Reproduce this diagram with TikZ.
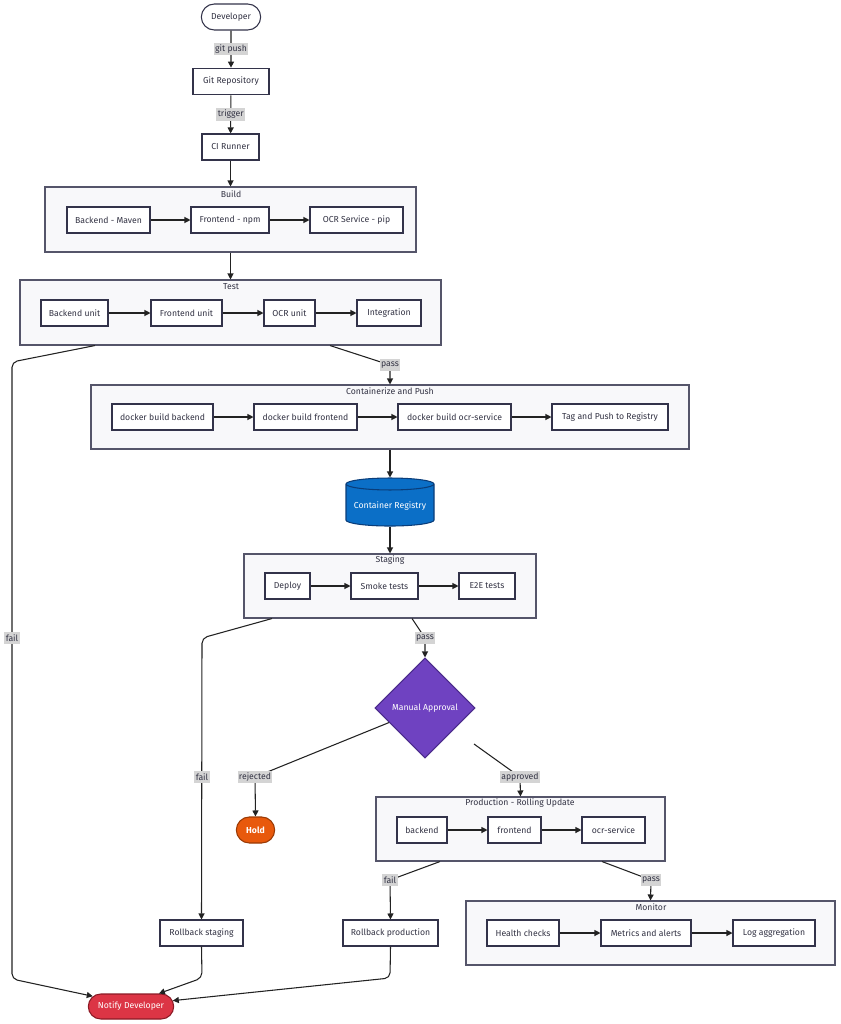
\documentclass[tikz,border=0pt]{standalone}
\usepackage{fontspec}
\setmainfont{Fira Sans}
\usetikzlibrary{arrows.meta,shapes.geometric,shapes.misc,fit}
\definecolor{nodeborder}{HTML}{33334A}
\definecolor{textc}{HTML}{333344}
\definecolor{clusterfill}{HTML}{F8F8FA}
\definecolor{clusterborder}{HTML}{55556A}
\definecolor{edgec}{HTML}{222222}
\definecolor{labelfill}{HTML}{D4D4D4}
\definecolor{regfill}{HTML}{0B6FC7}
\definecolor{regborder}{HTML}{0A3D7A}
\definecolor{apprfill}{HTML}{6F42C1}
\definecolor{apprborder}{HTML}{4A2A8A}
\definecolor{holdfill}{HTML}{E8590C}
\definecolor{holdborder}{HTML}{9A3A05}
\definecolor{notifyfill}{HTML}{DC3545}
\definecolor{notifyborder}{HTML}{8B1A25}
\tikzset{
  txt/.style={font=\fontsize{6.5}{7.5}\selectfont},
  box/.style={txt, draw=nodeborder, fill=white, line width=0.8pt, minimum height=19.5pt, inner sep=1pt, text=textc},
  term/.style={box, rounded rectangle},
  cluster/.style={draw=clusterborder, fill=clusterfill, line width=0.8pt, inner sep=0pt, sharp corners},
  ctitle/.style={txt, text=textc, inner sep=0pt},
  edge/.style={draw=edgec, line width=0.8pt, -{Triangle[length=4.5pt,width=4.5pt]}, rounded corners=4pt},
  elabel/.style={txt, fill=labelfill, sharp corners, inner xsep=1pt, inner ysep=0pt, minimum height=9.5pt, text=textc}
}
\begin{document}
\begin{tikzpicture}[x=0.75pt,y=-0.75pt]
\useasboundingbox (0,0) rectangle (841,1024);
% clusters
\node[cluster, fit={(45,187) (416,252)}] (build) {};
\node[ctitle] (buildT) at (231,194) {Build};
\node[cluster, fit={(20,280) (441,345)}] (test) {};
\node[ctitle] (testT) at (231,287) {Test};
\node[cluster, fit={(91,385) (689,449)}] (cont) {};
\node[ctitle] (contT) at (390,391) {Containerize and Push};
\node[cluster, fit={(244,554) (536,618)}] (staging) {};
\node[ctitle] (stagingT) at (390,560) {Staging};
\node[cluster, fit={(376,797) (665,861)}] (prod) {};
\node[ctitle] (prodT) at (520,803) {Production - Rolling Update};
\node[cluster, fit={(466,901) (835,965)}] (mon) {};
\node[ctitle] (monT) at (651,907) {Monitor};
% top nodes
\node[term, minimum width=46.5pt] (dev) at (231,17) {Developer};
\node[box, minimum width=57pt, minimum height=20pt] (git) at (231,81.5) {Git Repository};
\node[box, minimum width=42.75pt] (ci) at (230.5,147) {CI Runner};
% build
\node[box, minimum width=62.25pt] (bm) at (108.5,220) {Backend - Maven};
\node[box, minimum width=58.5pt] (fn) at (230,220) {Frontend - npm};
\node[box, minimum width=69.75pt] (op) at (356.5,220) {OCR Service - pip};
% test
\node[box, minimum width=50.25pt] (bu) at (74.5,313) {Backend unit};
\node[box, minimum width=53.25pt] (fu) at (186.5,313) {Frontend unit};
\node[box, minimum width=38.25pt] (ou) at (289.5,313) {OCR unit};
\node[box, minimum width=48pt] (iu) at (389,313) {Integration};
% containerize
\node[box, minimum width=75.75pt] (db1) at (162.5,417) {docker build backend};
\node[box, minimum width=77.25pt] (db2) at (305.5,417) {docker build frontend};
\node[box, minimum width=84.75pt] (db3) at (454.5,417) {docker build ocr-service};
\node[box, minimum width=87pt] (tp) at (610,417) {Tag and Push to Registry};
% registry
\node[cylinder, shape border rotate=90, aspect=0.16, draw=regborder, fill=regfill, line width=0.8pt, minimum width=66pt, minimum height=36pt, txt, text=white, inner sep=1pt] (reg) at (390,506) {Container Registry};
% staging
\node[box, minimum width=33.75pt] (dep) at (287.5,586) {Deploy};
\node[box, minimum width=50.25pt] (smk) at (384.5,586) {Smoke tests};
\node[box, minimum width=42pt] (e2e) at (487,586) {E2E tests};
% approval
\node[diamond, draw=apprborder, fill=apprfill, line width=0.8pt, minimum width=75pt, minimum height=75pt, inner sep=0pt, txt, text=white] (appr) at (425,708) {Manual Approval};
\coordinate (approut) at (474,744);
\node[term, draw=holdborder, fill=holdfill, text=white, minimum width=30.75pt] (hold) at (255.5,830) {\textbf{Hold}};
% production
\node[box, minimum width=37.5pt] (pb) at (422,830) {backend};
\node[box, minimum width=39.75pt] (pf) at (514.5,830) {frontend};
\node[box, minimum width=47.25pt] (po) at (613.5,830) {ocr-service};
% monitor
\node[box, minimum width=54pt] (hc) at (523,933) {Health checks};
\node[box, minimum width=67.5pt] (ma) at (646,933) {Metrics and alerts};
\node[box, minimum width=61.5pt] (la) at (774,933) {Log aggregation};
% rollbacks
\node[box, minimum width=62.25pt] (rbs) at (201.5,933) {Rollback staging};
\node[box, minimum width=71.25pt] (rbp) at (390.5,933) {Rollback production};
\node[term, draw=notifyborder, fill=notifyfill, text=white, minimum width=66pt, minimum height=18.75pt] (notify) at (131,1006.5) {Notify Developer};
% edges
\draw[edge] (dev) -- node[elabel] (lgit) {git push} (git);
\draw[edge] (git) -- node[elabel] (ltrig) {trigger} (ci);
\draw[edge] (ci.south) -- (ci.south |- build.north);
\draw[edge] (bm) -- (fn);
\draw[edge] (fn) -- (op);
\draw[edge] (build.south) -- (test.north);
\draw[edge] (bu) -- (fu);
\draw[edge] (fu) -- (ou);
\draw[edge] (ou) -- (iu);
\draw[edge] (test.south -| 330,0) -- (390,365) -- (cont.north);
\draw[edge] (test.south -| 95,0) -- (12,362) -- (12,979) -- (notify.165);
\draw[edge] (db1) -- (db2);
\draw[edge] (db2) -- (db3);
\draw[edge] (db3) -- (tp);
\draw[edge] (cont.south) -- (reg.top);
\draw[edge] (reg.bottom) -- (staging.north);
\draw[edge] (dep) -- (smk);
\draw[edge] (smk) -- (e2e);
\draw[edge] (staging.south -| 412,0) -- (425,638) -- (appr.north);
\draw[edge] (staging.south -| 272,0) -- (202,638) -- (rbs.north);
\draw[edge] (appr.202) -- (255,777) -- (hold.north);
\draw[edge] (approut) -- (520,777) -- (prod.north);
\draw[edge] (pb) -- (pf);
\draw[edge] (pf) -- (po);
\draw[edge] (prod.south -| 440,0) -- (390,880) -- (rbp.north);
\draw[edge] (prod.south -| 602,0) -- (651,880) -- (mon.north);
\draw[edge] (hc) -- (ma);
\draw[edge] (ma) -- (la);
\draw[edge] (rbs.south) -- (202,978) -- (notify.25);
\draw[edge] (rbp.south) -- (390,978) -- (notify.8);
% edge labels at bends
\node[elabel] (lpass1) at (390,365) {pass};
\node[elabel] (lfail1) at (12,638) {fail};
\node[elabel] (lpass2) at (425,638) {pass};
\node[elabel] (lfail2) at (202,777) {fail};
\node[elabel] (lrej) at (255,777) {rejected};
\node[elabel] (lappr) at (520,777) {approved};
\node[elabel] (lfail3) at (390,880) {fail};
\node[elabel] (lpass3) at (651,880) {pass};
\end{tikzpicture}
\end{document}
